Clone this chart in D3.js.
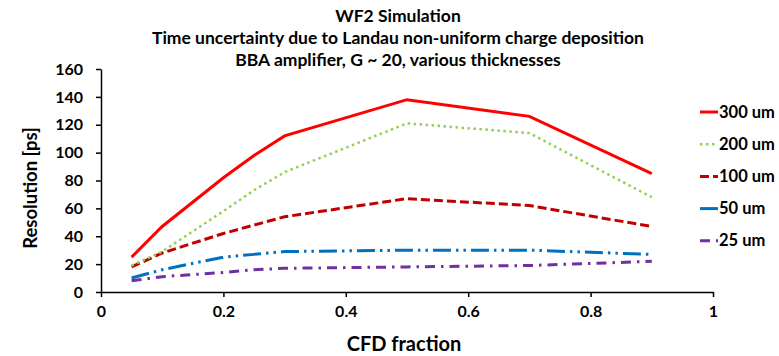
<!DOCTYPE html>
<html lang="en">
<head>
    <meta charset="UTF-8">
    <title>WF2 Simulation</title>
    <script src="https://d3js.org/d3.v7.min.js"></script>
    <style>
        body { margin: 0; background: #fff; }
        text { font-family: Lato, "Open Sans", sans-serif; font-weight: bold; fill: #000; }
        .axis path, .axis line { stroke: #000; stroke-width: 1.5px; }
        .axis text { font-size: 16px; }
        .line { fill: none; }
    </style>
</head>
<body>
    <div id="chart"></div>

    <script>
        // CFD fractions sampled
        const cfd = [0.05, 0.1, 0.2, 0.25, 0.3, 0.5, 0.7, 0.9];

        // resolution [ps] for each thickness
        const res300 = [25, 47, 82, 98, 112, 138, 126, 85];
        const res200 = [19, 29, 58, 73, 86, 121, 114, 68];
        const res100 = [18, 28, 42, 48, 54, 67, 62, 47];
        const res50 = [10, 16, 25, 27, 29, 30, 30, 27];
        const res25 = [8, 11, 14, 16, 17, 18, 19, 22];

        const seriesNames = ["300 um", "200 um", "100 um", "50 um", "25 um"];
        const xTicks = [0, 0.2, 0.4, 0.6, 0.8, 1];
        const yTicks = [0, 20, 40, 60, 80, 100, 120, 140, 160];
        const titleLines = [
            "WF2 Simulation",
            "Time uncertainty due to Landau non-uniform charge deposition",
            "BBA amplifier, G ~ 20, various thicknesses"
        ];

        const series = [
            { name: seriesNames[0], values: res300, color: "#FF0000", dash: null, width: 3 },
            { name: seriesNames[1], values: res200, color: "#92D050", dash: "2.5,3.5", width: 2.5 },
            { name: seriesNames[2], values: res100, color: "#C00000", dash: "9,4", width: 3 },
            { name: seriesNames[3], values: res50, color: "#0070C0", dash: "18,5,2.5,5,2.5,5", width: 3 },
            { name: seriesNames[4], values: res25, color: "#7030A0", dash: "10,6,2.5,6", width: 3 }
        ];

        const width = 779, height = 356;
        const svg = d3.select("#chart")
                        .append("svg")
                        .attr("width", width)
                        .attr("height", height);

        const x = d3.scaleLinear().domain([0, 1]).range([101, 713]);
        const y = d3.scaleLinear().domain([0, 160]).range([292, 69]);

        // title
        svg.append("g")
            .selectAll("text")
            .data(titleLines)
            .enter()
            .append("text")
            .attr("x", 398)
            .attr("y", (d, i) => 22 + i * 22)
            .attr("text-anchor", "middle")
            .style("font-size", "17.5px")
            .text(d => d);

        // axes
        svg.append("g")
            .attr("class", "axis")
            .attr("transform", `translate(0, ${y(0)})`)
            .call(d3.axisBottom(x).tickValues(xTicks).tickSize(5).tickSizeOuter(0).tickPadding(9)
                .tickFormat(d => d3.format("")(d)));

        svg.append("g")
            .attr("class", "axis")
            .attr("transform", `translate(${x(0)}, 0)`)
            .call(d3.axisLeft(y).tickValues(yTicks).tickSize(5).tickSizeOuter(0).tickPadding(13));

        // axis labels
        svg.append("text")
            .attr("x", 404)
            .attr("y", 351)
            .attr("text-anchor", "middle")
            .style("font-size", "20px")
            .text("CFD fraction");

        svg.append("text")
            .attr("transform", "rotate(-90)")
            .attr("x", -188)
            .attr("y", 37)
            .attr("text-anchor", "middle")
            .style("font-size", "18.5px")
            .text("Resolution [ps]");

        // lines, drawn from thinnest up so red sits on top
        const line = d3.line()
                        .x((d, i) => x(cfd[i]))
                        .y(d => y(d));

        svg.selectAll(".line")
            .data(series.slice().reverse())
            .enter()
            .append("path")
            .attr("class", "line")
            .attr("d", d => line(d.values))
            .attr("stroke", d => d.color)
            .attr("stroke-width", d => d.width)
            .attr("stroke-dasharray", d => d.dash);

        // legend
        const legend = svg.append("g")
            .selectAll("g")
            .data(series)
            .enter()
            .append("g")
            .attr("transform", (d, i) => `translate(700, ${112 + i * 32.2})`);

        legend.append("line")
            .attr("x1", 0)
            .attr("x2", 18)
            .attr("stroke", d => d.color)
            .attr("stroke-width", d => d.width)
            .attr("stroke-dasharray", d => d.dash);

        legend.append("text")
            .attr("x", 19)
            .attr("y", 5.5)
            .style("font-size", "16.5px")
            .text(d => d.name);
    </script>
</body>
</html>
